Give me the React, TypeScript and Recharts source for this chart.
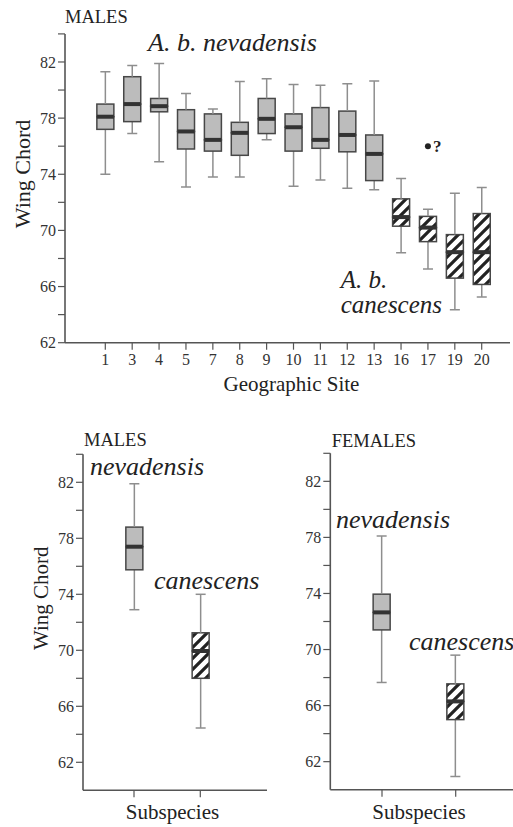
import React from 'react';
import { ComposedChart, Bar, XAxis, YAxis, ReferenceDot } from 'recharts';

// ---- Top chart: males by geographic site ----
const sites = ['1', '3', '4', '5', '7', '8', '9', '10', '11', '12', '13', '16', '17', '19', '20'];
const siteSubspecies = ['nev', 'nev', 'nev', 'nev', 'nev', 'nev', 'nev', 'nev', 'nev', 'nev', 'nev', 'can', 'can', 'can', 'can'];
const siteMin = [74.0, 76.9, 74.9, 73.1, 73.8, 73.8, 76.45, 73.15, 73.6, 73.0, 72.9, 68.4, 67.25, 64.35, 65.25];
const siteQ1 = [77.2, 77.75, 78.45, 75.8, 75.65, 75.35, 76.9, 75.65, 75.85, 75.6, 73.55, 70.3, 69.2, 66.6, 66.15];
const siteMedian = [78.1, 79.0, 78.85, 77.05, 76.45, 76.95, 77.95, 77.35, 76.45, 76.8, 75.45, 70.95, 70.2, 68.45, 68.45];
const siteQ3 = [79.0, 80.95, 79.4, 78.6, 78.3, 77.7, 79.4, 78.3, 78.75, 78.5, 76.8, 72.25, 71.0, 69.7, 71.2];
const siteMax = [81.3, 81.75, 81.9, 79.75, 78.65, 80.6, 80.8, 80.4, 80.35, 80.45, 80.65, 73.7, 71.5, 72.65, 73.05];
const outlierSite = '17';
const outlierValue = 76;

// ---- Bottom charts: by subspecies ----
const subspeciesCats = ['nevadensis', 'canescens'];
const subspeciesKinds = ['nev', 'can'];
const maleMin = [72.9, 64.45];
const maleQ1 = [75.75, 68.0];
const maleMedian = [77.4, 69.95];
const maleQ3 = [78.8, 71.25];
const maleMax = [81.9, 74.0];
const femaleMin = [67.65, 60.95];
const femaleQ1 = [71.4, 65.0];
const femaleMedian = [72.65, 66.3];
const femaleQ3 = [73.95, 67.55];
const femaleMax = [78.1, 69.6];

const topTicks = [62, 64, 66, 68, 70, 72, 74, 76, 78, 80, 82, 84];

function buildRows(cats: string[], kinds: string[], mins: number[], q1s: number[], meds: number[], q3s: number[], maxs: number[]) {
  return cats.map((c, i) => ({
    cat: c,
    sub: kinds[i],
    base: mins[i],
    wLo: q1s[i] - mins[i],
    bLo: meds[i] - q1s[i],
    bHi: q3s[i] - meds[i],
    wHi: maxs[i] - q3s[i],
  }));
}

const topRows = buildRows(sites, siteSubspecies, siteMin, siteQ1, siteMedian, siteQ3, siteMax);
const maleRows = buildRows(subspeciesCats, subspeciesKinds, maleMin, maleQ1, maleMedian, maleQ3, maleMax);
const femaleRows = buildRows(subspeciesCats, subspeciesKinds, femaleMin, femaleQ1, femaleMedian, femaleQ3, femaleMax);

const WHISKER = '#8e8e8e';
const BOX_STROKE = '#474747';
const BOX_FILL = '#bcbcbc';
const MEDIAN = '#333333';
const AXIS = '#555555';
const FONT = 'Liberation Serif, Times New Roman, serif';

const WhiskerLow = (p: any) => {
  const cx = p.x + p.width / 2;
  const yb = p.y + p.height;
  return (
    <g>
      <line x1={cx} x2={cx} y1={p.y} y2={yb} stroke={WHISKER} strokeWidth={1.5} />
      <line x1={cx - 5} x2={cx + 5} y1={yb} y2={yb} stroke={WHISKER} strokeWidth={1.5} />
    </g>
  );
};
const WhiskerHigh = (p: any) => {
  const cx = p.x + p.width / 2;
  return (
    <g>
      <line x1={cx} x2={cx} y1={p.y} y2={p.y + p.height} stroke={WHISKER} strokeWidth={1.5} />
      <line x1={cx - 5} x2={cx + 5} y1={p.y} y2={p.y} stroke={WHISKER} strokeWidth={1.5} />
    </g>
  );
};
const BoxLow = (p: any) => (
  <rect x={p.x} y={p.y} width={p.width} height={p.height}
    fill={p.payload && p.payload.sub === 'can' ? 'url(#hatch)' : BOX_FILL}
    stroke={BOX_STROKE} strokeWidth={1.5} />
);
const BoxHigh = (p: any) => (
  <g>
    <rect x={p.x} y={p.y} width={p.width} height={p.height}
      fill={p.payload && p.payload.sub === 'can' ? 'url(#hatch)' : BOX_FILL}
      stroke={BOX_STROKE} strokeWidth={1.5} />
    <rect x={p.x} y={p.y + p.height - 2} width={p.width} height={4} fill={MEDIAN} />
  </g>
);

const tickFmt = (v: number) => ((v - 62) % 4 === 0 ? String(v) : '');
const tickStyle = { fill: '#333', fontSize: 16, fontFamily: FONT };

function BoxSeries() {
  return [
    <Bar key="b" dataKey="base" stackId="s" fill="none" isAnimationActive={false} />,
    <Bar key="wl" dataKey="wLo" stackId="s" shape={WhiskerLow} isAnimationActive={false} />,
    <Bar key="bl" dataKey="bLo" stackId="s" shape={BoxLow} isAnimationActive={false} />,
    <Bar key="bh" dataKey="bHi" stackId="s" shape={BoxHigh} isAnimationActive={false} />,
    <Bar key="wh" dataKey="wHi" stackId="s" shape={WhiskerHigh} isAnimationActive={false} />,
  ];
}

export default function App() {
  return (
    <div style={{ position: 'absolute', left: 0, top: 0, width: 513, height: 827, overflow: 'hidden', background: '#fff' }}>
      <div style={{ position: 'absolute', left: 0, top: 0 }}>
        <ComposedChart width={513} height={400} data={topRows} barSize={17}
          margin={{ top: 33.9, right: 3, bottom: 27.3, left: 0 }}>
          <XAxis dataKey="cat" height={30} padding={{ left: 26.86, right: 14.86 }}
            axisLine={{ stroke: AXIS, strokeWidth: 1.6 }} tickLine={{ stroke: AXIS, strokeWidth: 1.2 }}
            tickSize={7} tickMargin={4} tick={tickStyle} interval={0} />
          <YAxis type="number" domain={[62, 84]} allowDataOverflow ticks={topTicks} width={65}
            tickFormatter={tickFmt} axisLine={{ stroke: AXIS, strokeWidth: 1.6 }}
            tickLine={{ stroke: AXIS, strokeWidth: 1.2 }} tickSize={7} tickMargin={2} tick={tickStyle} interval={0} />
          {BoxSeries()}
          <ReferenceDot x={outlierSite} y={outlierValue} r={3} fill="#222" stroke="none" />
        </ComposedChart>
      </div>
      <div style={{ position: 'absolute', left: 0, top: 400 }}>
        <ComposedChart width={270} height={427} data={maleRows} barSize={17}
          margin={{ top: 54.3, right: 3, bottom: 6.7, left: 0 }}>
          <XAxis dataKey="cat" height={30} padding={{ left: 17.85, right: 33.55 }}
            axisLine={{ stroke: AXIS, strokeWidth: 1.6 }} tickLine={{ stroke: AXIS, strokeWidth: 1.2 }}
            tickSize={7} tickFormatter={() => ''} interval={0} />
          <YAxis type="number" domain={[60, 84]} allowDataOverflow ticks={topTicks} width={83}
            tickFormatter={tickFmt} axisLine={{ stroke: AXIS, strokeWidth: 1.6 }}
            tickLine={{ stroke: AXIS, strokeWidth: 1.2 }} tickSize={7} tickMargin={2} tick={tickStyle} interval={0} />
          {BoxSeries()}
        </ComposedChart>
      </div>
      <div style={{ position: 'absolute', left: 270, top: 400 }}>
        <ComposedChart width={270} height={427} data={femaleRows} barSize={17}
          margin={{ top: 53.3, right: 10, bottom: 7.3, left: 0 }}>
          <XAxis dataKey="cat" height={30} padding={{ left: 14.85, right: 37.45 }}
            axisLine={{ stroke: AXIS, strokeWidth: 1.6 }} tickLine={{ stroke: AXIS, strokeWidth: 1.2 }}
            tickSize={7} tickFormatter={() => ''} interval={0} />
          <YAxis type="number" domain={[60, 84]} allowDataOverflow ticks={topTicks} width={60.3}
            tickFormatter={tickFmt} axisLine={{ stroke: AXIS, strokeWidth: 1.6 }}
            tickLine={{ stroke: AXIS, strokeWidth: 1.2 }} tickSize={7} tickMargin={2} tick={tickStyle} interval={0} />
          {BoxSeries()}
        </ComposedChart>
      </div>
      <svg width={513} height={827} style={{ position: 'absolute', left: 0, top: 0, pointerEvents: 'none' }}
        fontFamily={FONT} fill="#222">
        <defs>
          <pattern id="hatch" patternUnits="userSpaceOnUse" width={11} height={11}>
            <rect width={11} height={11} fill="#fff" />
            <path d="M-3,3 L3,-3 M0,11 L11,0 M8,14 L14,8" stroke="#222" strokeWidth={3.2} />
          </pattern>
        </defs>
        <text x={65} y={22.7} fontSize={18.5}>MALES</text>
        <text x={148} y={50.7} fontSize={26} fontStyle="italic">A. b. nevadensis</text>
        <text x={340.7} y={288.3} fontSize={25} fontStyle="italic">A. b.</text>
        <text x={340.7} y={313.3} fontSize={25} fontStyle="italic">canescens</text>
        <text x={433} y={152} fontSize={17} fontWeight="bold">?</text>
        <text x={30} y={174} fontSize={22} textAnchor="middle" transform="rotate(-90, 30, 174)">Wing Chord</text>
        <text x={291.5} y={390.5} fontSize={21} textAnchor="middle">Geographic Site</text>

        <text x={84} y={446} fontSize={18.5}>MALES</text>
        <text x={90} y={475} fontSize={26} fontStyle="italic">nevadensis</text>
        <text x={154} y={589.3} fontSize={26} fontStyle="italic">canescens</text>
        <text x={48} y={598.3} fontSize={21} textAnchor="middle" transform="rotate(-90, 48, 598.3)">Wing Chord</text>
        <text x={172.5} y={819} fontSize={21} textAnchor="middle">Subspecies</text>

        <text x={331.7} y={446.7} fontSize={18.5}>FEMALES</text>
        <text x={336} y={528.3} fontSize={26} fontStyle="italic">nevadensis</text>
        <text x={409} y={650} fontSize={26} fontStyle="italic">canescens</text>
        <text x={419} y={819} fontSize={21} textAnchor="middle">Subspecies</text>
      </svg>
    </div>
  );
}
